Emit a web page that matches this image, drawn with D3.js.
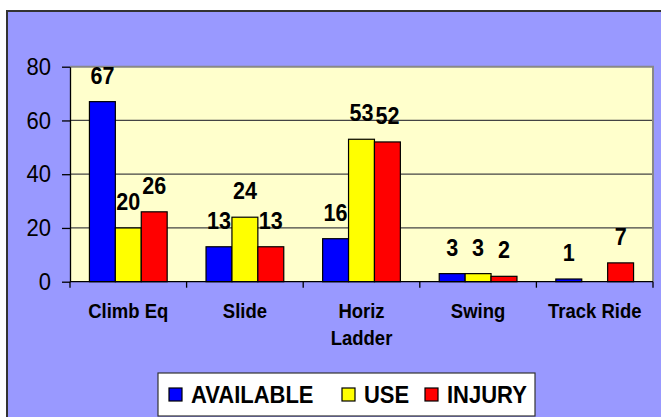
<!DOCTYPE html>
<html><head><meta charset="utf-8">
<script src="https://cdn.jsdelivr.net/npm/d3@7"></script>
<style>html,body{margin:0;padding:0;background:#fff;}svg{display:block;}</style>
</head><body>
<svg id="c" width="661" height="417"></svg>
<script>
const categories = [["Climb Eq"], ["Slide"], ["Horiz", "Ladder"], ["Swing"], ["Track Ride"]];
const seriesNames = ["AVAILABLE", "USE", "INJURY"];
const seriesColors = ["#0000FF", "#FFFF00", "#FF0000"];
const available = [67, 13, 16, 3, 1];
const use = [20, 24, 53, 3, null];
const injury = [26, 13, 52, 2, 7];
const yTicks = [0, 20, 40, 60, 80];

const seriesValues = [available, use, injury];
const svg = d3.select("#c");
const font = "'Liberation Sans', Arial, sans-serif";
const sy = 1.08;

// outer chart area
svg.append("rect").attr("x", 7).attr("y", 11).attr("width", 700).attr("height", 450)
  .attr("fill", "#9999FF").attr("stroke", "#333").attr("stroke-width", 2);

const pLeft = 70, pRight = 653, pTop = 66.7, pBottom = 281.7;
const catIdx = categories.map((d, i) => i);
const x = d3.scaleBand().domain(catIdx).range([pLeft, pRight]).paddingInner(0).paddingOuter(0);
const bw = x.bandwidth() / 4.5;
const xs = d3.scaleBand().domain(d3.range(seriesNames.length)).range([0, bw * 3]);
const off = (x.bandwidth() - bw * 3) / 2;
const y = d3.scaleLinear().domain([0, 80]).range([pBottom, pTop]);

// plot area
svg.append("rect").attr("x", pLeft).attr("y", pTop).attr("width", pRight - pLeft).attr("height", pBottom - pTop)
  .attr("fill", "#FFFFCC");
// grid lines
svg.append("g").selectAll("line").data(yTicks.filter(t => t > 0 && t < 80)).join("line")
  .attr("x1", pLeft).attr("x2", pRight).attr("y1", d => y(d)).attr("y2", d => y(d))
  .attr("stroke", "#444").attr("stroke-width", 1.2);
// plot border top/right
svg.append("path").attr("d", `M${pLeft},${y(80)}H${pRight}V${pBottom}`)
  .attr("fill", "none").attr("stroke", "#888").attr("stroke-width", 2);

// bars
const bars = [];
seriesValues.forEach((vals, s) => vals.forEach((v, i) => { if (v !== null) bars.push({s, i, v}); }));
svg.append("g").selectAll("rect").data(bars).join("rect")
  .attr("x", d => x(d.i) + off + xs(d.s))
  .attr("y", d => y(d.v))
  .attr("width", xs.bandwidth())
  .attr("height", d => y(0) - y(d.v))
  .attr("fill", d => seriesColors[d.s])
  .attr("stroke", "#000").attr("stroke-width", 1.2);

// value labels
svg.append("g").selectAll("text").data(bars).join("text")
  .attr("transform", d => `translate(${x(d.i) + off + xs(d.s) + xs.bandwidth() / 2},${y(d.v) - 18}) scale(0.98,${sy})`)
  .attr("text-anchor", "middle")
  .attr("font-family", font).attr("font-weight", "bold").attr("font-size", 22)
  .attr("fill", "#000").text(d => d.v);

// y axis
const yAxis = svg.append("g").attr("transform", `translate(${pLeft},0)`)
  .call(d3.axisLeft(y).tickValues(yTicks).tickSize(8).tickPadding(11).tickSizeOuter(0));
yAxis.select(".domain").attr("stroke", "#000").attr("stroke-width", 1.3);
yAxis.selectAll(".tick line").attr("stroke", "#000").attr("stroke-width", 1.3);
yAxis.selectAll(".tick text").attr("font-family", font).attr("font-size", 22).attr("fill", "#000")
  .attr("transform", `scale(1,${sy})`);

// x axis
svg.append("line").attr("x1", pLeft).attr("x2", pRight).attr("y1", pBottom).attr("y2", pBottom)
  .attr("stroke", "#000").attr("stroke-width", 1.3);
const bounds = catIdx.map(i => x(i)).concat([pRight]);
svg.append("g").selectAll("line").data(bounds).join("line")
  .attr("x1", d => d).attr("x2", d => d).attr("y1", pBottom).attr("y2", pBottom + 6)
  .attr("stroke", "#000").attr("stroke-width", 1.3);
const lines = [];
categories.forEach((c, i) => c.forEach((t, k) => lines.push({t, k, i})));
svg.append("g").selectAll("text").data(lines).join("text")
  .attr("transform", d => `translate(${x(d.i) + x.bandwidth() / 2},${317.8 + d.k * 27}) scale(1,${sy})`)
  .attr("text-anchor", "middle")
  .attr("font-family", font).attr("font-weight", "bold").attr("font-size", 18.5).attr("fill", "#000")
  .text(d => d.t);

// legend
const lg = svg.append("g");
lg.append("rect").attr("x", 158).attr("y", 373).attr("width", 377).attr("height", 43)
  .attr("fill", "#fff").attr("stroke", "#333").attr("stroke-width", 1.2);
const legX = [169, 342, 425];
seriesNames.forEach((n, s) => {
  lg.append("rect").attr("x", legX[s]).attr("y", 388).attr("width", 13).attr("height", 13)
    .attr("fill", seriesColors[s]).attr("stroke", "#000").attr("stroke-width", 1.2);
  lg.append("text").attr("transform", `translate(${legX[s] + 22},403) scale(1,${sy})`)
    .attr("font-family", font).attr("font-weight", "bold").attr("font-size", 22).attr("fill", "#000")
    .text(n);
});
</script>
</body></html>
